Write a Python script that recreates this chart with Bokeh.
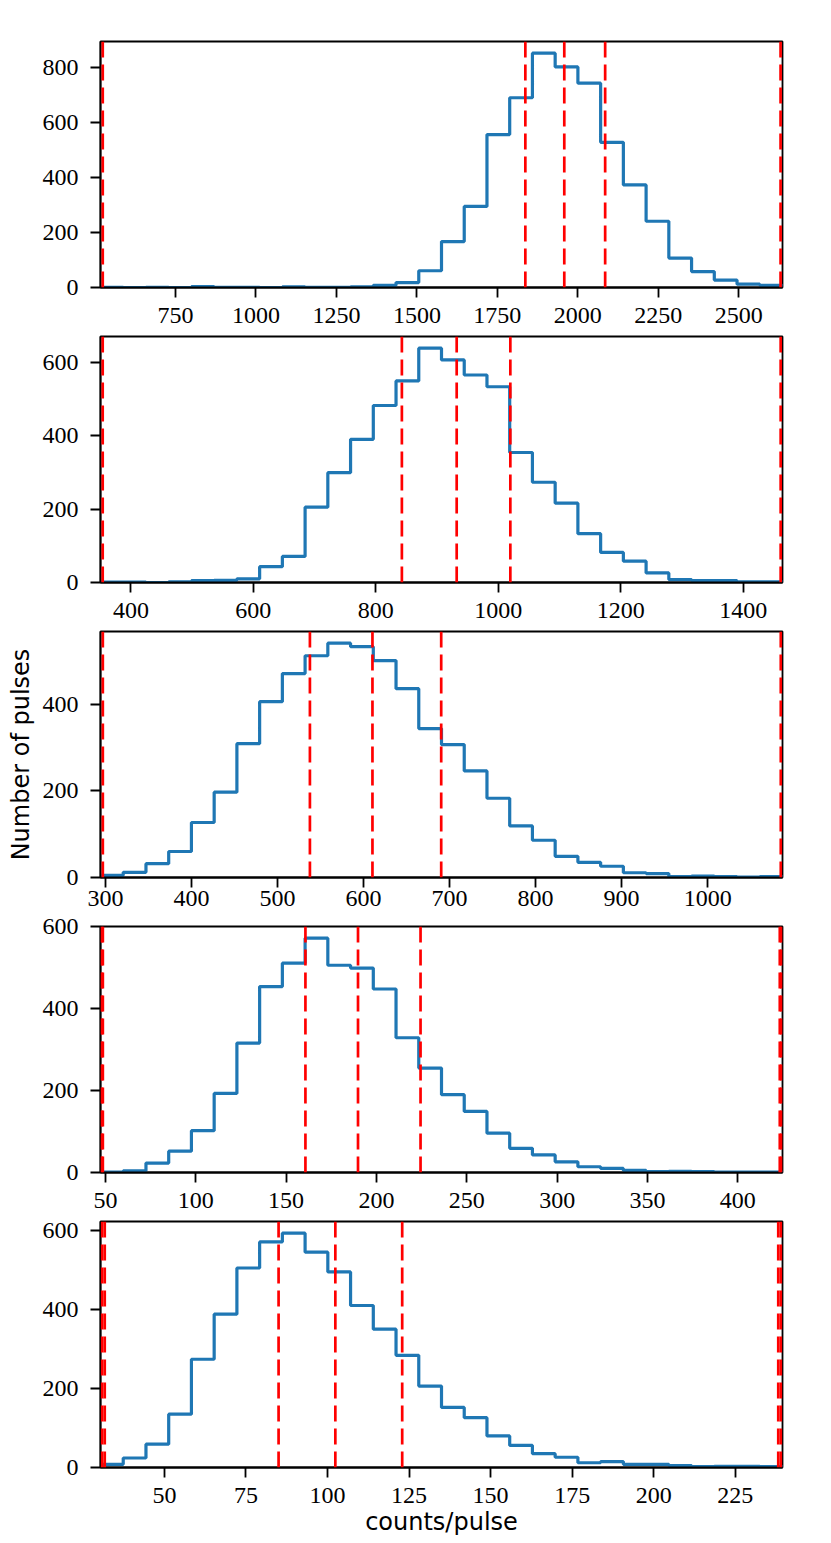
import numpy as np
from bokeh.plotting import figure
from bokeh.layouts import column
from bokeh.models import Span, FixedTicker
from bokeh.embed import file_html
from bokeh.resources import INLINE

# ---------------- data ----------------
# panel 1
range1 = (517, 2636)
counts1 = [1, 0, 1, 0, 3, 1, 1, 0, 2, 1, 1, 2,
           8, 18, 61, 167, 295, 556, 690, 852, 802, 743, 528, 373, 241, 107, 58, 27, 12, 8]
lines1 = [524, 1837, 1958, 2085, 2630]
xticks1 = [750, 1000, 1250, 1500, 1750, 2000, 2250, 2500]
yticks1 = [0, 200, 400, 600, 800]

# panel 2
range2 = (350.4, 1464)
counts2 = [1, 1, 0, 2, 5, 6, 10, 43, 71, 205, 299, 390, 482, 549, 638,
           606, 565, 533, 354, 273, 216, 133, 82, 58, 26, 8, 5, 5, 2, 2]
lines2 = [354, 842.5, 932, 1019.6, 1461]
xticks2 = [400, 600, 800, 1000, 1200, 1400]
yticks2 = [0, 200, 400, 600]

# panel 3
range3 = (294.3, 1087)
counts3 = [5, 12, 32, 60, 127, 197, 309, 406, 471, 512, 541, 533, 501, 436, 344,
           307, 246, 183, 119, 86, 49, 35, 26, 11, 9, 2, 3, 2, 1, 2]
lines3 = [297, 537.7, 610.4, 690.3, 1085]
xticks3 = [300, 400, 500, 600, 700, 800, 900, 1000]
yticks3 = [0, 200, 400]

# panel 4
range4 = (47.3, 424.7)
counts4 = [1, 4, 23, 52, 102, 193, 316, 454, 511, 572, 506, 499, 448, 329, 255,
           190, 149, 96, 59, 43, 26, 14, 10, 5, 2, 3, 2, 1, 1, 1]
lines4 = [48.0, 48.6, 160.7, 189.8, 224.4, 423.2, 424.0]
xticks4 = [50, 100, 150, 200, 250, 300, 350, 400]
yticks4 = [0, 200, 400, 600]

# panel 5
range5 = (30.4, 239.5)
counts5 = [8, 24, 59, 135, 274, 388, 505, 571, 593, 545, 495, 410, 350, 284, 206,
           152, 126, 80, 56, 35, 26, 12, 15, 8, 8, 5, 2, 3, 3, 2]
lines5 = [30.9, 31.7, 85.0, 102.4, 122.9, 238.2, 239.0]
xticks5 = [50, 75, 100, 125, 150, 175, 200, 225]
yticks5 = [0, 200, 400, 600]

xlabel = "counts/pulse"
ylabel = "Number of pulses"

# ---------------- layout ----------------
W = 831
FRAME_LEFT = 100
FRAME_RIGHT = 782
FRAME_H = 246
TICK_FONT = "Liberation Serif"
TICK_SIZE = "24px"


def make_panel(rng, counts, vlines, xticks, yticks, top, bottom, xstand=10,
               ylab=None, xlab=None):
    lo, hi = rng
    n = len(counts)
    edges = np.linspace(lo, hi, n + 1)
    xs = np.repeat(edges, 2)
    ys = np.concatenate([[0], np.repeat(np.asarray(counts, dtype=float), 2), [0]])
    ymax = max(counts) * 1.05

    p = figure(width=W, height=top + FRAME_H + bottom,
               x_range=(lo, hi), y_range=(0, ymax),
               output_backend="svg", toolbar_location=None,
               min_border_left=FRAME_LEFT, min_border_right=W - FRAME_RIGHT,
               min_border_top=top, min_border_bottom=bottom)
    p.background_fill_color = "white"
    p.border_fill_color = "white"
    p.outline_line_color = "black"
    p.outline_line_width = 1.8
    p.outline_line_alpha = 1.0
    p.xgrid.visible = False
    p.ygrid.visible = False

    p.line(xs, ys, line_color="#1f77b4", line_width=3.2)

    for v in vlines:
        p.add_layout(Span(location=v, dimension="height", line_color="red",
                          line_dash="16 7", line_width=2.7))

    for ax, ticks in ((p.xaxis[0], xticks), (p.yaxis[0], yticks)):
        ax.ticker = FixedTicker(ticks=ticks)
        ax.axis_line_color = "black"
        ax.axis_line_width = 1.8
        ax.major_tick_line_color = "black"
        ax.major_tick_line_width = 1.8
        ax.major_tick_out = 10
        ax.major_tick_in = 0
        ax.minor_tick_line_color = None
        ax.major_label_text_font = TICK_FONT
        ax.major_label_text_font_size = TICK_SIZE
        ax.major_label_text_color = "black"
    p.xaxis.major_label_standoff = xstand
    p.yaxis.major_label_standoff = 12

    if ylab:
        p.yaxis.axis_label = ylab
        p.yaxis.axis_label_text_font = "DejaVu Sans"
        p.yaxis.axis_label_text_font_size = "24px"
        p.yaxis.axis_label_text_font_style = "normal"
        p.yaxis.axis_label_text_color = "black"
        p.yaxis.axis_label_standoff = 5
    if xlab:
        p.xaxis.axis_label = xlab
        p.xaxis.axis_label_text_font = "DejaVu Sans"
        p.xaxis.axis_label_text_font_size = "24px"
        p.xaxis.axis_label_text_font_style = "normal"
        p.xaxis.axis_label_text_color = "black"
        p.xaxis.axis_label_standoff = 2
    return p


p1 = make_panel(range1, counts1, lines1, xticks1, yticks1, 41, 46)
p2 = make_panel(range2, counts2, lines2, xticks2, yticks2, 3, 46)
p3 = make_panel(range3, counts3, lines3, xticks3, yticks3, 3, 40, xstand=3, ylab=ylabel)
p4 = make_panel(range4, counts4, lines4, xticks4, yticks4, 9, 46)
p5 = make_panel(range5, counts5, lines5, xticks5, yticks5, 3, 76, xlab=xlabel)

layout = column(p1, p2, p3, p4, p5, spacing=0)

open("out.html", "w").write(file_html(layout, INLINE))
